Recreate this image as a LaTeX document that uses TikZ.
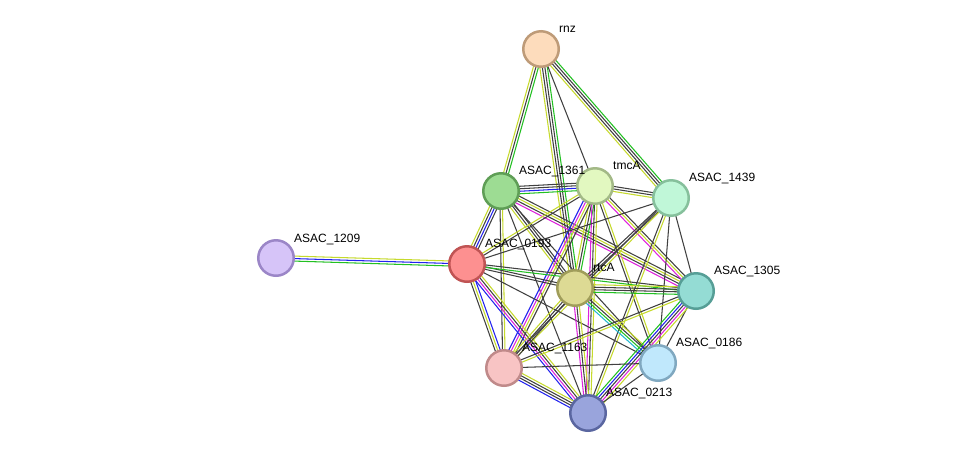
\documentclass[tikz,border=0pt]{standalone}
\usepackage{fontspec}
\setmainfont{Liberation Sans}
\usetikzlibrary{calc}
\pgfdeclarelayer{bg}
\pgfsetlayers{bg,main}
\definecolor{ey}{HTML}{C6DA2C}
\definecolor{eg}{HTML}{22C022}
\definecolor{eb}{HTML}{2222EE}
\definecolor{ek}{HTML}{404040}
\definecolor{em}{HTML}{DD22DD}
\definecolor{ec}{HTML}{22B8D0}
\newcommand\sedge[4]{%
  \foreach \c [count=\i] in {#4} {%
    \pgfmathsetmacro\off{(\i-(#3+1)/2)*2.5}%
    \draw[edgeline,color=\c] ($(#1.center)!\off pt!90:(#2.center)$) -- ($(#2.center)!\off pt!-90:(#1.center)$);
  }}
\tikzset{
  prot/.style={circle,minimum size=35.5pt,inner sep=0pt,line width=2.5pt},
  lab/.style={anchor=base west,inner sep=0pt,font=\fontsize{12}{14}\selectfont,text=black},
  edgeline/.style={line width=1.05pt}
}
\begin{document}
\begin{tikzpicture}[x=1pt,y=-1pt]
\useasboundingbox (0,0) rectangle (976,459);
\node[prot,fill={rgb,255:red,253;green,220;blue,188},draw={rgb,255:red,190;green,155;blue,120}] (R) at (541,49) {};
\node[prot,fill={rgb,255:red,157;green,220;blue,147},draw={rgb,255:red,95;green,158;blue,86}] (A) at (501,191) {};
\node[prot,fill={rgb,255:red,226;green,248;blue,192},draw={rgb,255:red,163;green,185;blue,135}] (T) at (595,186) {};
\node[prot,fill={rgb,255:red,192;green,247;blue,216},draw={rgb,255:red,134;green,192;blue,156}] (B) at (671,198) {};
\node[prot,fill={rgb,255:red,214;green,196;blue,248},draw={rgb,255:red,155;green,134;blue,199}] (C) at (276,258) {};
\node[prot,fill={rgb,255:red,253;green,144;blue,144},draw={rgb,255:red,192;green,84;blue,84}] (D) at (467,264) {};
\node[prot,fill={rgb,255:red,221;green,218;blue,148},draw={rgb,255:red,160;green,157;blue,90}] (E) at (575,288) {};
\node[prot,fill={rgb,255:red,148;green,220;blue,212},draw={rgb,255:red,86;green,158;blue,150}] (F) at (696,291) {};
\node[prot,fill={rgb,255:red,248;green,196;blue,196},draw={rgb,255:red,192;green,138;blue,138}] (G) at (504,368) {};
\node[prot,fill={rgb,255:red,192;green,232;blue,252},draw={rgb,255:red,128;green,168;blue,192}] (H) at (658,363) {};
\node[prot,fill={rgb,255:red,153;green,164;blue,220},draw={rgb,255:red,90;green,102;blue,160}] (I) at (588,413) {};
\node[lab] (lR) at (559,32) {rnz};
\node[lab] (lA) at (519,174) {ASAC\_1361};
\node[lab] (lT) at (613,169) {tmcA};
\node[lab] (lB) at (689,181) {ASAC\_1439};
\node[lab] (lC) at (294,242) {ASAC\_1209};
\node[lab] (lD) at (485,247) {ASAC\_0193};
\node[lab] (lE) at (593,271) {rtcA};
\node[lab] (lF) at (714,274) {ASAC\_1305};
\node[lab] (lG) at (522,351) {ASAC\_1163};
\node[lab] (lH) at (676,346) {ASAC\_0186};
\node[lab] (lI) at (606,396) {ASAC\_0213};
\begin{pgfonlayer}{bg}
\fill[white] (0,0) rectangle (976,459);
\sedge{R}{A}{3}{ey,ek,eg}
\sedge{R}{E}{4}{ey,ek,ek,eg}
\sedge{R}{T}{1}{ek}
\sedge{R}{B}{4}{ey,ek,ek,eg}
\sedge{C}{D}{3}{eg,eb,ey}
\sedge{A}{T}{4}{eg,eb,ek,ek}
\sedge{A}{D}{4}{ey,ek,eb,ek}
\sedge{A}{E}{3}{ey,ek,ek}
\sedge{A}{F}{4}{em,ek,ey,ek}
\sedge{A}{G}{2}{ek,ey}
\sedge{A}{I}{1}{ek}
\sedge{A}{H}{1}{ek}
\sedge{T}{B}{3}{ey,ek,ek}
\sedge{T}{D}{2}{ey,ek}
\sedge{T}{E}{3}{ey,ek,eg}
\sedge{T}{F}{3}{em,ey,ek}
\sedge{T}{G}{4}{eb,em,ey,ek}
\sedge{T}{I}{3}{em,ek,ey}
\sedge{T}{H}{2}{ek,ey}
\sedge{B}{D}{1}{ek}
\sedge{B}{E}{2}{ek,ek}
\sedge{B}{F}{1}{ek}
\sedge{B}{G}{2}{ek,ey}
\sedge{B}{I}{2}{ek,ey}
\sedge{B}{H}{1}{ek}
\sedge{D}{E}{2}{ek,ek}
\sedge{D}{F}{2}{eg,ek}
\sedge{D}{G}{3}{ek,ey,eb}
\sedge{D}{I}{4}{eb,em,ek,ey}
\sedge{D}{H}{1}{ek}
\sedge{E}{F}{4}{eg,ek,ek,ey}
\sedge{E}{G}{3}{ey,ek,ek}
\sedge{E}{I}{3}{em,ek,ey}
\sedge{E}{H}{4}{ec,eg,ek,ey}
\sedge{F}{H}{1}{ek}
\sedge{F}{I}{5}{eg,eb,ek,em,ey}
\sedge{F}{G}{2}{ek,ey}
\sedge{G}{I}{4}{eb,ek,ek,ey}
\sedge{G}{H}{1}{ek}
\sedge{H}{I}{1}{ek}
\end{pgfonlayer}
\end{tikzpicture}
\end{document}
